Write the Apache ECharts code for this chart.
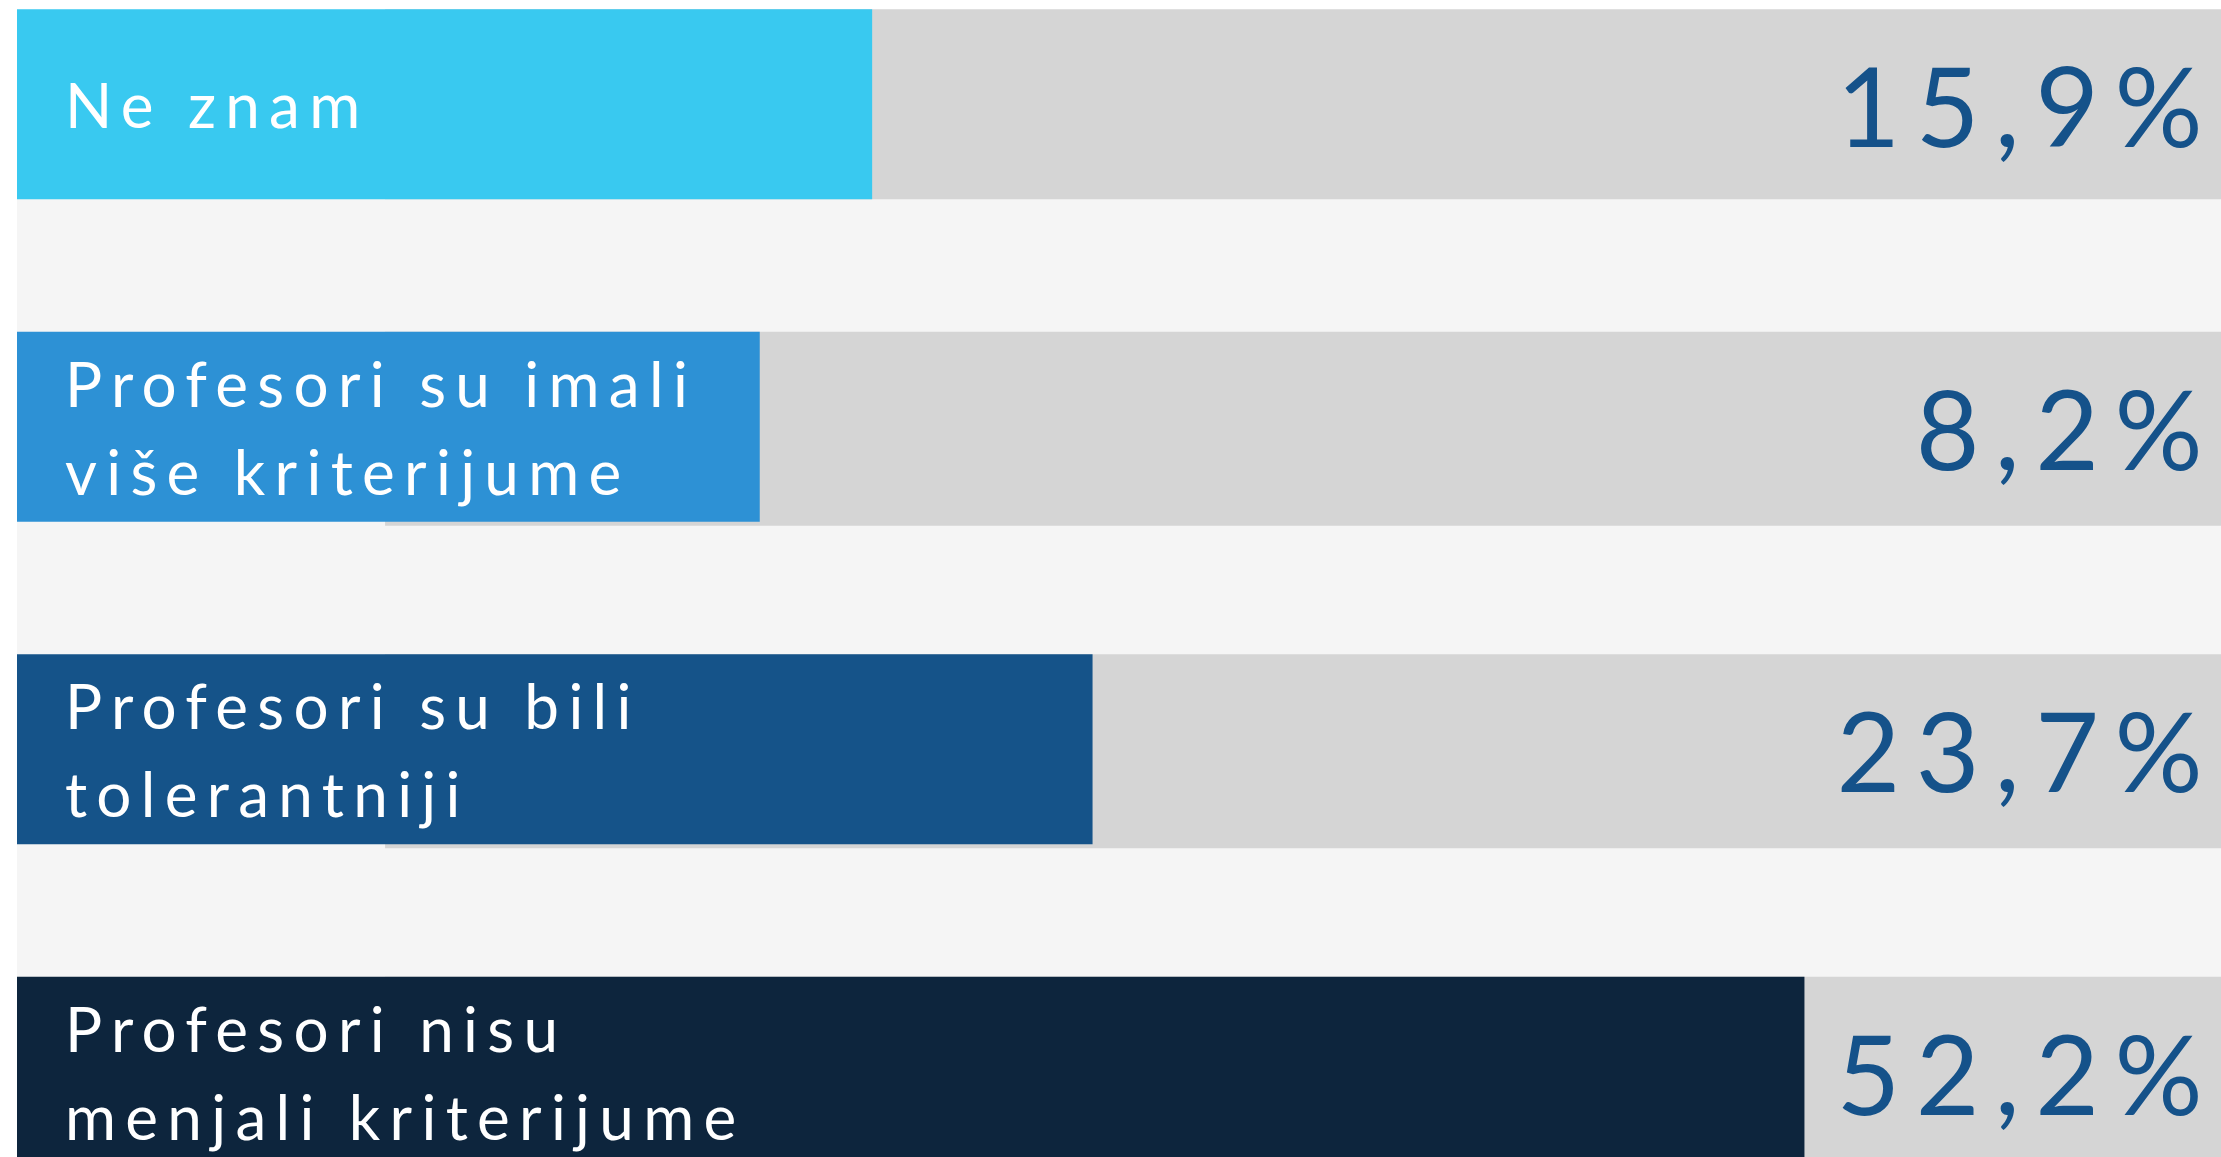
<!DOCTYPE html>
<html>
<head>
<meta charset="utf-8">
<script src="https://cdn.jsdelivr.net/npm/echarts@6/dist/echarts.min.js"></script>
<style>
  html, body { margin: 0; padding: 0; background: #ffffff; overflow: hidden; width: 2221px; height: 1157px; position: relative; }
  #chart { position: absolute; left: 0; top: -57px; width: 2221px; height: 1290px; }
  #chart text { letter-spacing: 0.15em; }
  #chart text[fill="#15528a"] { letter-spacing: 0.14em; }
</style>
</head>
<body>
<div id="chart"></div>
<script>
// Categories (as shown on the bars)
const categories = [
  'Ne znam',
  'Profesori su imali\nviše kriterijume',
  'Profesori su bili\ntolerantniji',
  'Profesori nisu\nmenjali kriterijume'
];
// Percent values printed on the right
const values = [15.9, 8.2, 23.7, 52.2];
// Drawn bar lengths (share of the full track, 0-100)
const barLengths = [38.8, 33.7, 48.8, 81.1];
// Bar colours
const barColors = ['#39c9f0', '#2d91d5', '#155389', '#0d253d'];

const TRACK_START = 16.7;
const fmt = v => v.toFixed(1).replace('.', ',') + '%';

const chart = echarts.init(document.getElementById('chart'), null, { renderer: 'svg' });
chart.setOption({
  animation: false,
  backgroundColor: '#ffffff',
  graphic: [{
    type: 'rect', z: 0, silent: true,
    shape: { x: 17, y: 68, width: 2204, height: 1222 },
    style: { fill: '#f5f5f5' }
  }],
  grid: { left: 17, right: 0, top: 0, bottom: 0 },
  xAxis: { type: 'value', min: 0, max: 100, show: false },
  yAxis: { type: 'category', data: categories, inverse: true, show: false },
  series: [
    {
      type: 'custom', z: 1, silent: true,
      data: values.map((v, i) => [v, i]),
      encode: { x: 0, y: 1 },
      renderItem(params, api) {
        const idx = api.value(1);
        const c = api.coord([0, idx]);
        const start = api.coord([TRACK_START, idx])[0];
        const end = api.coord([100, idx])[0];
        const half = 95;
        const shadow = idx > 0 ? 4 : 0;
        return {
          type: 'group',
          children: [
            { type: 'rect', shape: { x: start, y: c[1] - half, width: end - start, height: 2 * half + shadow }, style: { fill: '#d5d5d5' } },
            { type: 'text', x: end - 3, y: c[1], style: { text: fmt(api.value(0)), fill: '#15528a', fontFamily: 'Lato', fontSize: 110, fontWeight: 400, align: 'right', verticalAlign: 'middle' } }
          ]
        };
      }
    },
    {
      type: 'bar', z: 3, silent: true,
      barWidth: 190,
      data: barLengths.map((v, i) => ({ value: v, itemStyle: { color: barColors[i] } })),
      label: {
        show: true, position: 'insideLeft', distance: 0, offset: [48, 0],
        formatter: p => p.name,
        color: '#ffffff', fontFamily: 'Lato', fontSize: 62, lineHeight: 88, fontWeight: 400
      }
    }
  ]
});
</script>
</body>
</html>
